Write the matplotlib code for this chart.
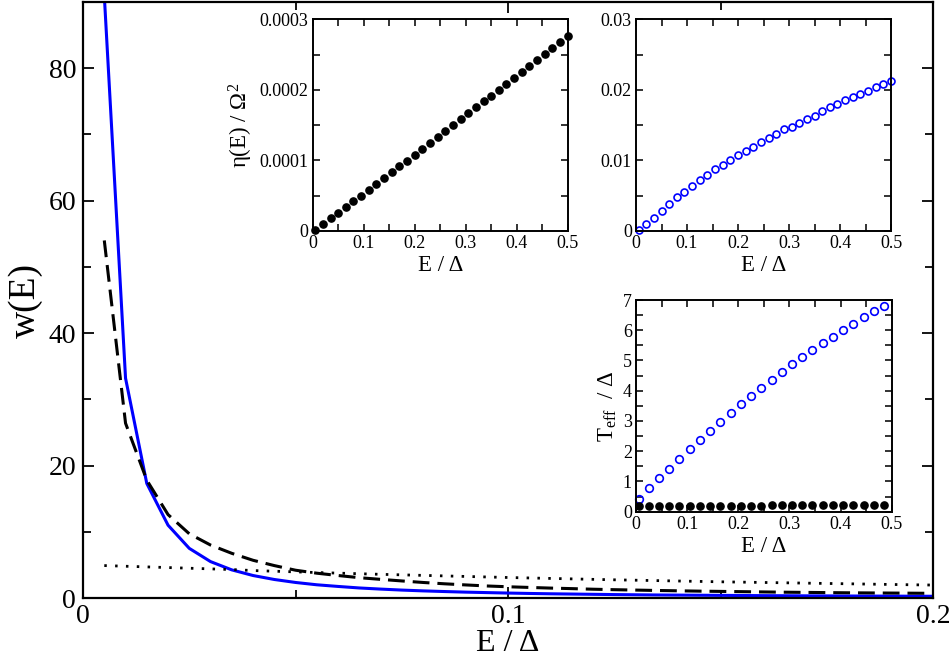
import matplotlib
matplotlib.use("Agg")
import matplotlib.pyplot as plt

plt.rcParams['font.family'] = ['Liberation Serif', 'DejaVu Serif']
plt.rcParams['mathtext.fontset'] = 'custom'
plt.rcParams['mathtext.rm'] = 'Liberation Serif'
plt.rcParams['mathtext.it'] = 'Liberation Serif:italic'

# main panel: w(E) versus E / Delta
E_main = [0.005, 0.01, 0.015, 0.02, 0.025, 0.03, 0.035, 0.04, 0.045, 0.05,
          0.055, 0.06, 0.065, 0.07, 0.075, 0.08, 0.085, 0.09, 0.095, 0.1,
          0.105, 0.11, 0.115, 0.12, 0.125, 0.13, 0.135, 0.14, 0.145, 0.15,
          0.155, 0.16, 0.165, 0.17, 0.175, 0.18, 0.185, 0.19, 0.195, 0.2]
w_blue = [91, 33.2, 17.3, 11.0, 7.5, 5.5, 4.25, 3.4, 2.8, 2.35,
          2.0, 1.75, 1.52, 1.35, 1.2, 1.08, 0.98, 0.89, 0.82, 0.75,
          0.69, 0.64, 0.6, 0.56, 0.52, 0.49, 0.46, 0.44, 0.42, 0.4,
          0.38, 0.36, 0.345, 0.33, 0.32, 0.305, 0.295, 0.285, 0.275, 0.265]
w_dashed = [54, 26.4, 17.8, 12.6, 9.7, 8.0, 6.75, 5.7, 4.9, 4.2,
            3.75, 3.4, 3.07, 2.82, 2.58, 2.35, 2.15, 1.98, 1.82, 1.7,
            1.6, 1.5, 1.42, 1.33, 1.26, 1.2, 1.14, 1.09, 1.04, 1.0,
            0.96, 0.92, 0.88, 0.85, 0.82, 0.79, 0.77, 0.75, 0.73, 0.71]
w_dotted = [4.9, 4.8, 4.7, 4.6, 4.5, 4.4, 4.3, 4.15, 4.05, 3.95,
            3.85, 3.76, 3.67, 3.58, 3.5, 3.42, 3.34, 3.26, 3.18, 3.1,
            3.03, 2.96, 2.89, 2.82, 2.75, 2.69, 2.63, 2.57, 2.51, 2.45,
            2.4, 2.35, 2.3, 2.25, 2.2, 2.15, 2.1, 2.05, 2.0, 1.96]
main_xticks = [0, 0.1, 0.2]
main_xlabels = ['0', '0.1', '0.2']
main_yticks = [0, 20, 40, 60, 80]
main_ylabels = ['0', '20', '40', '60', '80']

# insets eta(E) and blue circles share the same E grid
E_ins = [0.005, 0.02, 0.035, 0.05, 0.065, 0.08, 0.095, 0.11, 0.125, 0.14,
         0.155, 0.17, 0.185, 0.2, 0.215, 0.23, 0.245, 0.26, 0.275, 0.29,
         0.305, 0.32, 0.335, 0.35, 0.365, 0.38, 0.395, 0.41, 0.425, 0.44,
         0.455, 0.47, 0.485, 0.5]
eta = [0.0000015, 0.0000099, 0.0000180, 0.0000262, 0.0000342, 0.0000420,
       0.0000502, 0.0000585, 0.0000668, 0.0000750, 0.0000830, 0.0000915,
       0.0000998, 0.0001082, 0.0001165, 0.0001250, 0.0001333, 0.0001415,
       0.0001500, 0.0001585, 0.0001668, 0.0001752, 0.0001836, 0.0001920,
       0.0002005, 0.0002088, 0.0002172, 0.0002255, 0.0002340, 0.0002425,
       0.0002510, 0.0002595, 0.0002680, 0.0002765]
blue_ins = [0.00014, 0.00094, 0.00184, 0.00283, 0.00383, 0.00477, 0.00557,
            0.00642, 0.00723, 0.00798, 0.00874, 0.0094, 0.01006, 0.01072,
            0.01138, 0.01195, 0.01256, 0.01313, 0.0137, 0.01445, 0.01478,
            0.0153, 0.01587, 0.01634, 0.01705, 0.01757, 0.01804, 0.01852,
            0.01899, 0.01941, 0.01989, 0.02036, 0.02078, 0.02121]

# effective temperature inset
E_teff = [0.005, 0.025, 0.045, 0.065, 0.085, 0.105, 0.125, 0.145, 0.165,
          0.185, 0.205, 0.225, 0.245, 0.265, 0.285, 0.305, 0.325, 0.345,
          0.365, 0.385, 0.405, 0.425, 0.445, 0.465, 0.485]
teff_blue = [0.41, 0.77, 1.10, 1.42, 1.74, 2.06, 2.37, 2.68, 2.98, 3.26,
             3.55, 3.83, 4.10, 4.37, 4.62, 4.87, 5.12, 5.35, 5.57, 5.79,
             6.00, 6.22, 6.43, 6.63, 6.81]
teff_black = [0.19, 0.19, 0.19, 0.195, 0.195, 0.195, 0.2, 0.2, 0.2, 0.2,
              0.205, 0.205, 0.205, 0.21, 0.21, 0.21, 0.21, 0.215, 0.215,
              0.215, 0.22, 0.22, 0.22, 0.225, 0.225]

ins_xticks = [0, 0.1, 0.2, 0.3, 0.4, 0.5]
ins_xlabels = ['0', '0.1', '0.2', '0.3', '0.4', '0.5']
eta_yticks = [0, 0.0001, 0.0002, 0.0003]
eta_ylabels = ['0', '0.0001', '0.0002', '0.0003']
b_yticks = [0, 0.01, 0.02, 0.03]
b_ylabels = ['0', '0.01', '0.02', '0.03']
t_yticks = [0, 1, 2, 3, 4, 5, 6, 7]
t_ylabels = ['0', '1', '2', '3', '4', '5', '6', '7']


def style(ax, size, major, minor, lw):
    for s in ax.spines.values():
        s.set_linewidth(lw)
    ax.tick_params(which='both', direction='in', top=True, right=True,
                   width=lw * 0.8, labelsize=size)
    ax.tick_params(which='major', length=major)
    ax.tick_params(which='minor', length=minor)


fig = plt.figure(figsize=(9.49, 6.63), dpi=100)

ax = fig.add_axes([0.0875, 0.098, 0.8957, 0.8989])
ax.plot(E_main, w_blue, color='blue', lw=2.2)
ax.plot(E_main, w_dashed, color='black', lw=2.2, dashes=(5.5, 2.6))
ax.plot(E_main, w_dotted, color='black', lw=2.0, dashes=(0.9, 3.0))
ax.set_xlim(0, 0.2)
ax.set_ylim(0, 90)
ax.set_xticks(main_xticks)
ax.set_xticklabels(main_xlabels)
ax.set_yticks(main_yticks)
ax.set_yticklabels(main_ylabels)
ax.set_xticks([0.05, 0.15], minor=True)
ax.set_yticks([10, 30, 50, 70, 90], minor=True)
style(ax, 20, 8, 6, 1.6)
ax.tick_params(axis='x', pad=4)
ax.tick_params(axis='y', pad=5)
ax.set_xlabel('E / Δ', fontsize=23, labelpad=0)
ax.set_ylabel('w(E)', fontsize=27, labelpad=4)


def inset(rect, yticks, ylabels, ymax, ystep):
    a = fig.add_axes(rect)
    a.set_xlim(0, 0.5)
    a.set_ylim(0, ymax)
    a.set_xticks(ins_xticks)
    a.set_xticklabels(ins_xlabels)
    a.set_yticks(yticks)
    a.set_yticklabels(ylabels)
    a.set_xticks([0.05, 0.15, 0.25, 0.35, 0.45], minor=True)
    a.set_yticks([y + ystep for y in yticks[:-1]], minor=True)
    style(a, 13, 5, 5, 1.4)
    a.tick_params(pad=3)
    a.set_xlabel('E / Δ', fontsize=16.5, labelpad=2)
    return a


a1 = inset([0.3295, 0.6516, 0.2687, 0.3193],
           eta_yticks, eta_ylabels, 0.0003, 0.00005)
a1.plot(E_ins, eta, 'o', color='black', ms=5.2, clip_on=False)
a1.set_ylabel('η(E) / Ω$^2$', fontsize=16.5, labelpad=3)

a2 = inset([0.6702, 0.6516, 0.2687, 0.3193],
           b_yticks, b_ylabels, 0.03, 0.005)
a2.plot(E_ins, blue_ins, 'o', mfc='none', mec='blue', mew=1.2, ms=5,
        clip_on=False)

a3 = inset([0.6702, 0.2282, 0.2694, 0.3193],
           t_yticks, t_ylabels, 7, 0.5)
a3.plot(E_teff, teff_blue, 'o', mfc='none', mec='blue', mew=1.2, ms=5.5,
        clip_on=False)
a3.plot(E_teff, teff_black, 'o', color='black', ms=5.2, clip_on=False)
a3.set_ylabel('T$_{\\mathrm{eff}}$  / Δ', fontsize=16.5, labelpad=3)

fig.savefig('out.png', dpi=100)
